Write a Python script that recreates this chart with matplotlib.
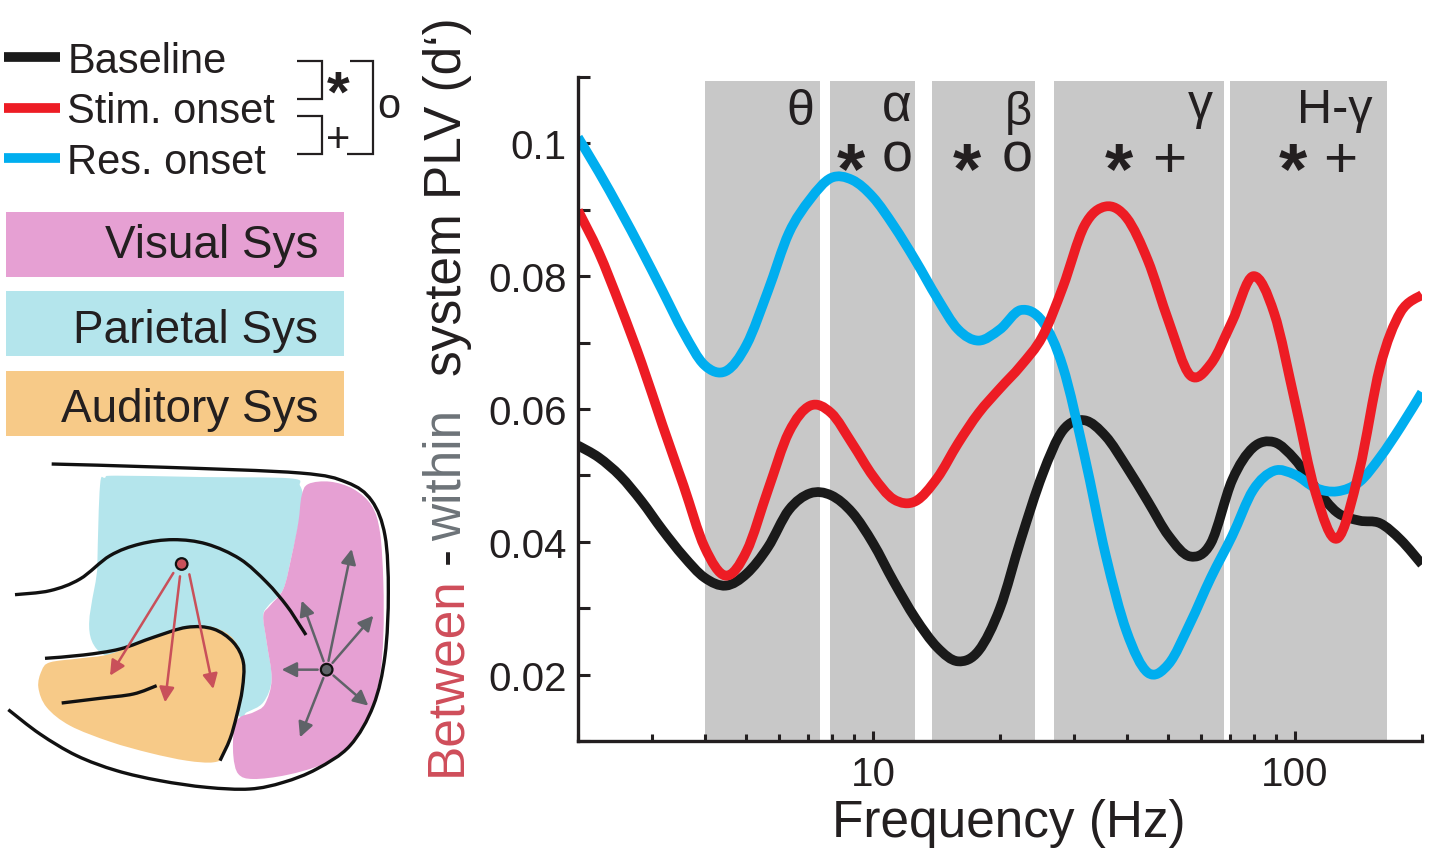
import numpy as np
import matplotlib
matplotlib.use("Agg")
import matplotlib.pyplot as plt
import matplotlib.ticker as mticker
from matplotlib.patches import Rectangle, FancyArrowPatch, Circle, PathPatch, ArrowStyle
from matplotlib.path import Path
from matplotlib.lines import Line2D

plt.rcParams['font.family'] = ['Liberation Sans', 'DejaVu Sans']

# ---------------- data ----------------
freq_hz = [2.00, 2.24, 2.52, 2.83, 3.17, 3.56, 3.99, 4.48, 5.02, 5.64,
           6.32, 7.10, 7.96, 8.93, 10.0, 11.2, 12.6, 14.2, 15.9, 17.8,
           20.0, 22.4, 25.2, 28.2, 31.7, 35.6, 39.9, 44.8, 50.2, 56.4,
           63.2, 71.0, 79.6, 89.3, 100.0, 112.0, 126.0, 142.0, 159.0, 178.0, 200.0]

baseline = [0.0545, 0.0527, 0.0499, 0.0461, 0.0418, 0.0378, 0.0346, 0.0334, 0.0352, 0.0392,
            0.0448, 0.0473, 0.0470, 0.0444, 0.0398, 0.0340, 0.0285, 0.0241, 0.0220, 0.0236,
            0.0300, 0.0403, 0.0501, 0.0568, 0.0583, 0.0559, 0.0513, 0.0461, 0.0409, 0.0378,
            0.0398, 0.0493, 0.0542, 0.0550, 0.0524, 0.0481, 0.0444, 0.0432, 0.0428, 0.0403, 0.0366]

stim_onset = [0.0899, 0.0836, 0.0755, 0.0669, 0.0576, 0.0484, 0.0392, 0.0349, 0.0386, 0.0478,
              0.0565, 0.0605, 0.0594, 0.0548, 0.0499, 0.0464, 0.0461, 0.0496, 0.0548, 0.0594,
              0.0631, 0.0665, 0.0709, 0.0784, 0.0876, 0.0905, 0.0888, 0.0824, 0.0732, 0.0651,
              0.0668, 0.0732, 0.0800, 0.0744, 0.0611, 0.0473, 0.0405, 0.0507, 0.0663, 0.0746, 0.0772]

res_onset = [0.1009, 0.0957, 0.0899, 0.0839, 0.0778, 0.0715, 0.0666, 0.0657, 0.0697, 0.0778,
             0.0865, 0.0916, 0.0948, 0.0945, 0.0919, 0.0876, 0.0824, 0.0767, 0.0720, 0.0703,
             0.0720, 0.0749, 0.0732, 0.0663, 0.0530, 0.0380, 0.0265, 0.0203, 0.0216, 0.0277,
             0.0346, 0.0409, 0.0478, 0.0507, 0.0501, 0.0481, 0.0476, 0.0490, 0.0527, 0.0573, 0.0625]

series_labels = ['Baseline', 'Stim. onset', 'Res. onset']
series_colors = ['#1a1a1a', '#ed1c24', '#00aeef']

band_lo = [4.0, 7.9, 13.8, 26.9, 70.3]
band_hi = [7.5, 12.6, 24.2, 67.8, 165.6]
band_names = ['θ', 'α', 'β', 'γ', 'H-γ']

y_ticks = [0.02, 0.04, 0.06, 0.08, 0.1]
y_ticklabels = ['0.02', '0.04', '0.06', '0.08', '0.1']
x_ticks = [10, 100]
x_ticklabels = ['10', '100']

system_names = ['Visual Sys', 'Parietal Sys', 'Auditory Sys']
system_colors = ['#e6a0d3', '#b4e5ec', '#f7ca88']

TXT = '#231f20'
W, H = 1430, 854
fig = plt.figure(figsize=(W / 100, H / 100), dpi=100)

# background axes in pixel coordinates (y downwards)
bg = fig.add_axes([0, 0, 1, 1], zorder=0)
bg.set_xlim(0, W)
bg.set_ylim(H, 0)
bg.axis('off')

# ---------------- main plot ----------------
ax = fig.add_axes([578 / W, (H - 742) / H, (1422 - 578) / W, (742 - 78) / H], zorder=1)
ax.patch.set_alpha(0)

# foreground overlay in pixel coordinates for annotations above the bands
fg = fig.add_axes([0, 0, 1, 1], zorder=3)
fg.set_xlim(0, W)
fg.set_ylim(H, 0)
fg.axis('off')
fg.patch.set_alpha(0)

for lo, hi in zip(band_lo, band_hi):
    ax.axvspan(lo, hi, ymin=0, ymax=0.994, color='#c8c8c8', lw=0, zorder=0)


def smooth_series_path(xs, ys):
    """Smooth (Catmull-Rom -> cubic Bezier) path through the data points, built in
    log10(x) space so that it is drawn through the axes' log scale."""
    u = np.log10(np.asarray(xs, float))
    v = np.asarray(ys, float)
    p = np.column_stack([u, v])
    n = len(p)
    verts = [p[0]]
    codes = [Path.MOVETO]
    for i in range(n - 1):
        p0 = p[i - 1] if i > 0 else p[i]
        p1, p2 = p[i], p[i + 1]
        p3 = p[i + 2] if i + 2 < n else p[i + 1]
        verts += [p1 + (p2 - p0) / 6.0, p2 - (p3 - p1) / 6.0, p2]
        codes += [Path.CURVE4] * 3
    verts = np.array(verts)
    verts[:, 0] = 10 ** verts[:, 0]
    return Path(verts, codes)


for vals, col in zip([baseline, res_onset, stim_onset],
                     [series_colors[0], series_colors[2], series_colors[1]]):
    ax.add_patch(PathPatch(smooth_series_path(freq_hz, vals), facecolor='none',
                           edgecolor=col, lw=7, joinstyle='round', capstyle='butt', zorder=2))

ax.set_xscale('log')
ax.set_xlim(2, 200)
ax.set_ylim(0.01, 0.11)
for s in ['top', 'right']:
    ax.spines[s].set_visible(False)
for s in ['left', 'bottom']:
    ax.spines[s].set_linewidth(2.4)
    ax.spines[s].set_color(TXT)

ax.yaxis.set_major_locator(mticker.FixedLocator(y_ticks))
ax.yaxis.set_major_formatter(mticker.FixedFormatter(y_ticklabels))
ax.yaxis.set_minor_locator(mticker.FixedLocator([0.01, 0.03, 0.05, 0.07, 0.09, 0.11]))
ax.xaxis.set_major_locator(mticker.FixedLocator(x_ticks))
ax.xaxis.set_major_formatter(mticker.FixedFormatter(x_ticklabels))
ax.xaxis.set_minor_locator(mticker.LogLocator(base=10, subs=np.arange(2, 10), numticks=20))
ax.xaxis.set_minor_formatter(mticker.NullFormatter())

ax.tick_params(axis='both', which='both', direction='in', color=TXT, width=2.2,
               labelsize=29, labelcolor=TXT)
ax.tick_params(axis='y', which='both', length=8.5, pad=8)
ax.tick_params(axis='x', which='major', length=7.5, pad=10)
ax.tick_params(axis='x', which='minor', length=5)

# band labels (x center px, baseline px, size)
band_label_pos = [(800, 125, 36), (897, 121, 37), (1018, 125, 34), (1200, 119, 36), (1335, 123, 35)]
for name, (px, py, fs) in zip(band_names, band_label_pos):
    fg.text(px, py, name, ha='center', va='baseline', fontsize=fs, color=TXT)

# significance marks
marks = [('*', 851), ('o', 897), ('*', 967), ('o', 1017),
         ('*', 1119), ('+', 1169), ('*', 1293), ('+', 1340)]
mark_style = {'*': (52, 193, 'bold'), 'o': (40, 172, 'normal'), '+': (42, 177, 'normal')}
for m, px in marks:
    fs, py, fw = mark_style[m]
    fg.text(px, py, m, ha='center', va='baseline', fontsize=fs, color=TXT, fontweight=fw)

# x label
bg.text(1009, 837, 'Frequency (Hz)', ha='center', va='baseline', fontsize=37, color=TXT)

# y label (multi-coloured, rotated)
renderer = fig.canvas.get_renderer()
ypos = 776
pieces = [('Between', '#cf4d5a', 12), ('-', TXT, 6), ('within', '#6d7378', 34),
          ('system PLV (d‘)', TXT, 0)]
for s, c, gap in pieces:
    t = bg.text(447, ypos, s, rotation=90, ha='center', va='bottom', fontsize=37, color=c)
    bb = t.get_window_extent(renderer)
    ypos = H - bb.y1 - gap

# ---------------- legend ----------------
handles = [Line2D([], [], color=c, lw=7, solid_capstyle='butt') for c in series_colors]
leg = fig.legend(handles, series_labels, loc='upper left', bbox_to_anchor=(4, 42),
                 bbox_transform=bg.transData, frameon=False, fontsize=30,
                 handlelength=1.35, handletextpad=0.17, labelspacing=0.25,
                 borderpad=0, borderaxespad=0)
for t in leg.get_texts():
    t.set_color(TXT)


def seg(pts, lw=1.6):
    xs, ys = zip(*pts)
    bg.plot(xs, ys, color=TXT, lw=lw, solid_capstyle='butt', solid_joinstyle='miter')


seg([(297, 62), (322, 62), (322, 100), (297, 100)])
seg([(297, 117), (322, 117), (322, 155), (297, 155)])
seg([(350, 62), (373, 62), (373, 155), (347, 155)])
bg.text(338, 112, '*', ha='center', va='baseline', fontsize=42, fontweight='bold', color=TXT)
bg.text(338, 152, '+', ha='center', va='baseline', fontsize=30, color=TXT)
bg.text(389, 118, 'o', ha='center', va='baseline', fontsize=30, color=TXT)

# system boxes
box_tops = [213, 292, 372]
box_baselines = [258, 343, 422]
for name, col, top, bl in zip(system_names, system_colors, box_tops, box_baselines):
    bg.add_patch(Rectangle((6, top), 338, 65, facecolor=col, edgecolor='none'))
    bg.text(318, bl, name, ha='right', va='baseline', fontsize=33, color=TXT)


# ---------------- brain schematic ----------------
def tr(pts):
    a = np.asarray(pts, float)
    return np.column_stack([a[:, 0] / 3.0, 450 + a[:, 1] / 3.0])


def smooth_path(pts, closed=False):
    p = tr(pts)
    n = len(p)
    verts = [p[0]]
    codes = [Path.MOVETO]
    rng = n if closed else n - 1
    for i in range(rng):
        if closed:
            p0, p1, p2, p3 = p[(i - 1) % n], p[i], p[(i + 1) % n], p[(i + 2) % n]
        else:
            p0 = p[i - 1] if i > 0 else p[i]
            p1 = p[i]
            p2 = p[i + 1]
            p3 = p[i + 2] if i + 2 < n else p[i + 1]
        verts += [p1 + (p2 - p0) / 6.0, p2 - (p3 - p1) / 6.0, p2]
        codes += [Path.CURVE4] * 3
    if closed:
        verts.append(p[0])
        codes.append(Path.CLOSEPOLY)
    return Path(verts, codes)


cyan_pts = [(300, 110), (315, 86), (350, 80), (600, 84), (870, 88), (900, 110), (908, 150),
            (895, 230), (875, 320), (850, 420), (805, 470), (790, 500), (800, 580),
            (815, 690), (790, 760), (740, 790), (715, 800), (600, 700), (290, 600), (292, 350)]
pink_pts = [(925, 105), (990, 98), (1060, 120), (1115, 170), (1140, 250), (1150, 400),
            (1150, 560), (1138, 690), (1105, 810), (1050, 890), (970, 945), (860, 978),
            (760, 990), (715, 975), (700, 920), (702, 840), (720, 805), (760, 790),
            (795, 765), (815, 690), (800, 580), (790, 500), (810, 470), (850, 420),
            (875, 320), (895, 220), (905, 140)]
orange_pts = [(150, 640), (240, 628), (330, 615), (450, 570), (560, 535), (640, 535),
              (700, 570), (730, 640), (725, 740), (700, 840), (670, 920), (640, 940),
              (560, 935), (450, 912), (330, 878), (210, 830), (140, 775), (115, 715), (125, 665)]
for pts, col in [(cyan_pts, system_colors[1]), (pink_pts, system_colors[0]),
                 (orange_pts, system_colors[2])]:
    bg.add_patch(PathPatch(smooth_path(pts, closed=True), facecolor=col, edgecolor='none', zorder=1))

outer = [(155, 45), (500, 55), (900, 72), (1040, 100), (1115, 155), (1155, 260), (1165, 430),
         (1155, 620), (1120, 770), (1050, 890), (950, 960), (850, 1000), (750, 1020),
         (620, 1015), (480, 995), (350, 965), (230, 920), (120, 855), (25, 782)]
upper = [(45, 437), (150, 425), (240, 390), (330, 320), (420, 285), (520, 272), (620, 285),
         (720, 330), (800, 400), (860, 470), (900, 530), (918, 558)]
temporal = [(135, 628), (250, 618), (360, 600), (460, 565), (560, 535), (640, 540),
            (700, 580), (730, 640), (727, 720), (710, 800), (690, 870), (660, 935)]
short = [(185, 762), (300, 748), (400, 735), (470, 710)]
for pts in [outer, upper, temporal, short]:
    bg.add_patch(PathPatch(smooth_path(pts), facecolor='none', edgecolor='#111111',
                           lw=2.4, capstyle='butt', zorder=2))

red_arrows = [((520, 372), (330, 680)), ((540, 382), (495, 760)), ((568, 376), (640, 720))]
gray_dot = (980, 662)
gray_tips = [(1055, 300), (905, 455), (1120, 500), (845, 662), (1105, 770), (900, 865)]
style = ArrowStyle('-|>', head_length=9, head_width=4.5)
for a, b in red_arrows:
    A, B = tr([a, b])
    bg.add_patch(FancyArrowPatch(A, B, arrowstyle=style, mutation_scale=1, color='#c9505a',
                                 lw=1.8, shrinkA=0, shrinkB=0, zorder=3))
gd = tr([gray_dot])[0]
for tip in gray_tips:
    B = tr([tip])[0]
    d = (B - gd) / np.linalg.norm(B - gd)
    A = gd + d * 9
    bg.add_patch(FancyArrowPatch(A, B, arrowstyle=style, mutation_scale=1, color='#5f6368',
                                 lw=1.8, shrinkA=0, shrinkB=0, zorder=3))
rd = tr([(545, 345)])[0]
bg.add_patch(Circle(rd, 5.8, facecolor='#c9505a', edgecolor='#111111', lw=1.6, zorder=4))
bg.add_patch(Circle(gd, 5.8, facecolor='#5f6368', edgecolor='#111111', lw=1.6, zorder=4))

fig.savefig('out.png', dpi=100)
